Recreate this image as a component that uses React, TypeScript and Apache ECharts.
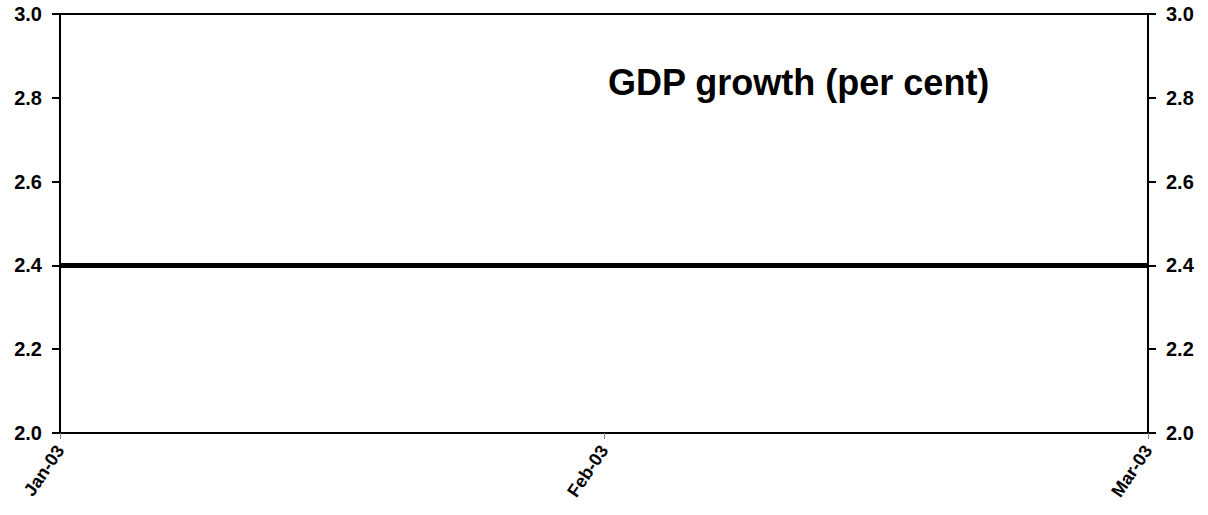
import React, { useEffect, useRef } from "react";
import * as echarts from "echarts";

const categories = ["Jan-03", "Feb-03", "Mar-03"];
const gdpGrowth = [2.4, 2.4, 2.4];
const titleText = "GDP growth (per cent)";

export default function App() {
  const ref = useRef<HTMLDivElement>(null);
  useEffect(() => {
    if (!ref.current) return;
    const chart = echarts.init(ref.current, null, { renderer: "svg" });
    const font = "Liberation Sans, Arial, sans-serif";
    const yAxisCommon = {
      type: "value" as const,
      min: 2.0,
      max: 3.0,
      interval: 0.2,
      axisLine: { show: true, lineStyle: { color: "#000", width: 2 } },
      axisTick: { show: true, inside: false, length: 8, lineStyle: { color: "#000", width: 2 } },
      splitLine: { show: false },
      axisLabel: {
        color: "#000",
        fontFamily: font,
        fontWeight: "bold" as const,
        fontSize: 20,
        margin: 18,
        formatter: (v: number) => v.toFixed(1),
      },
    };
    chart.setOption({
      animation: false,
      backgroundColor: "#fff",
      title: {
        text: titleText,
        left: 603,
        top: 59,
        textStyle: { fontFamily: font, fontWeight: "bold", fontSize: 36, color: "#000" },
      },
      grid: {
        left: 60,
        right: 60,
        top: 14,
        bottom: 82,
        show: true,
        borderColor: "#000",
        borderWidth: 2,
      },
      xAxis: {
        type: "category",
        data: categories,
        boundaryGap: false,
        axisLine: { show: true, lineStyle: { color: "#000", width: 2 } },
        axisTick: { show: true, length: 6, lineStyle: { color: "#888", width: 1 } },
        axisLabel: {
          color: "#000",
          fontFamily: font,
          fontWeight: "bold",
          fontSize: 18,
          rotate: 56,
          margin: 14,
        },
      },
      yAxis: [
        { ...yAxisCommon, position: "left" },
        { ...yAxisCommon, position: "right" },
      ],
      series: [
        {
          type: "line",
          data: gdpGrowth,
          yAxisIndex: 0,
          symbol: "none",
          lineStyle: { color: "#000", width: 5 },
        },
      ],
    });
    return () => chart.dispose();
  }, []);
  return (
    <div
      ref={ref}
      style={{ position: "fixed", left: 0, top: 0, width: 1208, height: 515 }}
    />
  );
}
